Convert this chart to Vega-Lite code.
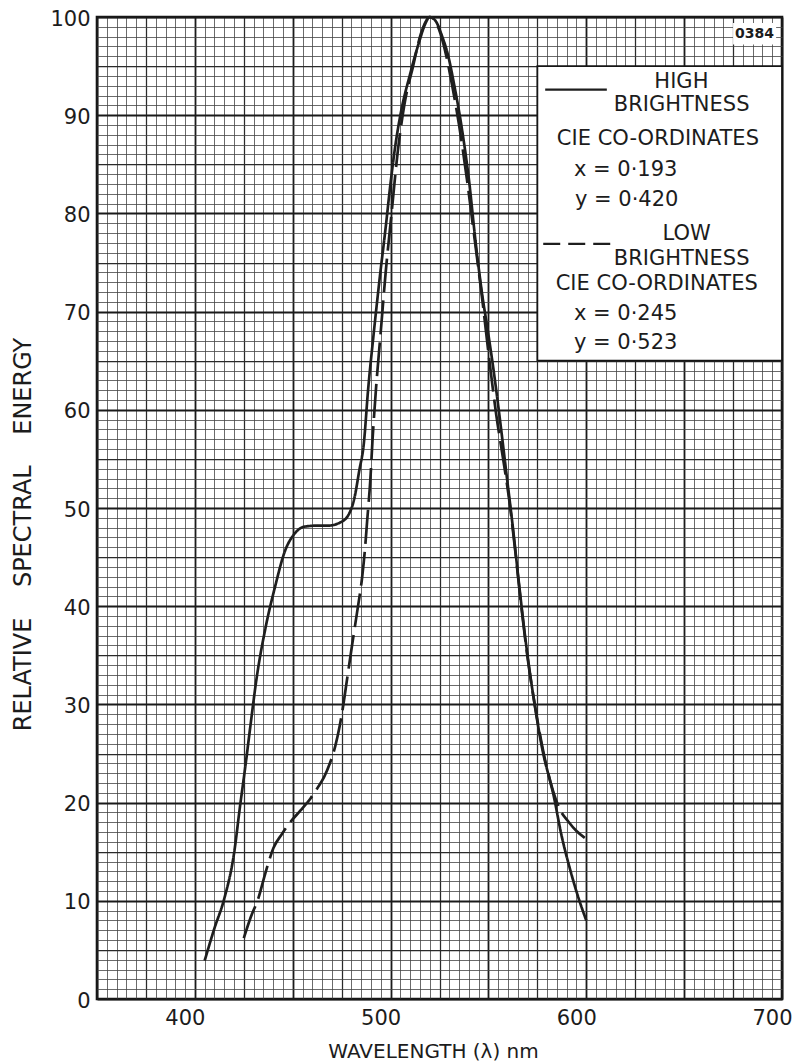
{
  "$schema": "https://vega.github.io/schema/vega-lite/v6.json",
  "width": 685,
  "height": 982,
  "autosize": {"type": "none"},
  "padding": {"left": 97, "top": 17, "right": 16, "bottom": 62},
  "background": "#ffffff",
  "config": {
    "view": {"stroke": "#151515", "strokeWidth": 2.6},
    "font": "DejaVu Sans",
    "text": {"font": "DejaVu Sans", "color": "#1c1c1c"}
  },
  "resolve": {"axis": {"x": "independent", "y": "independent"}},
  "datasets": {
    "spectrum": [
      {"wl": 405, "energy": 3.9, "series": "High brightness"},
      {"wl": 410, "energy": 7.2, "series": "High brightness"},
      {"wl": 415, "energy": 10.2, "series": "High brightness"},
      {"wl": 420, "energy": 14.8, "series": "High brightness"},
      {"wl": 423, "energy": 19.5, "series": "High brightness"},
      {"wl": 426, "energy": 24, "series": "High brightness"},
      {"wl": 428.5, "energy": 28, "series": "High brightness"},
      {"wl": 431.5, "energy": 32.6, "series": "High brightness"},
      {"wl": 436, "energy": 37.7, "series": "High brightness"},
      {"wl": 441, "energy": 42, "series": "High brightness"},
      {"wl": 446, "energy": 45.6, "series": "High brightness"},
      {"wl": 451, "energy": 47.4, "series": "High brightness"},
      {"wl": 456, "energy": 48.1, "series": "High brightness"},
      {"wl": 462, "energy": 48.2, "series": "High brightness"},
      {"wl": 468, "energy": 48.2, "series": "High brightness"},
      {"wl": 474, "energy": 48.5, "series": "High brightness"},
      {"wl": 478.5, "energy": 49.3, "series": "High brightness"},
      {"wl": 481.5, "energy": 51, "series": "High brightness"},
      {"wl": 484, "energy": 53.8, "series": "High brightness"},
      {"wl": 486.3, "energy": 56.5, "series": "High brightness"},
      {"wl": 488.5, "energy": 62, "series": "High brightness"},
      {"wl": 491.5, "energy": 68, "series": "High brightness"},
      {"wl": 494.5, "energy": 73.5, "series": "High brightness"},
      {"wl": 497.4, "energy": 78.4, "series": "High brightness"},
      {"wl": 500, "energy": 83.1, "series": "High brightness"},
      {"wl": 502.5, "energy": 87, "series": "High brightness"},
      {"wl": 505, "energy": 90, "series": "High brightness"},
      {"wl": 510, "energy": 94.2, "series": "High brightness"},
      {"wl": 514.5, "energy": 97.4, "series": "High brightness"},
      {"wl": 517.5, "energy": 99.2, "series": "High brightness"},
      {"wl": 520, "energy": 100, "series": "High brightness"},
      {"wl": 523, "energy": 99.6, "series": "High brightness"},
      {"wl": 526.4, "energy": 98, "series": "High brightness"},
      {"wl": 529.5, "energy": 96, "series": "High brightness"},
      {"wl": 532.3, "energy": 93.3, "series": "High brightness"},
      {"wl": 536.3, "energy": 88.8, "series": "High brightness"},
      {"wl": 540, "energy": 83.5, "series": "High brightness"},
      {"wl": 543.5, "energy": 77, "series": "High brightness"},
      {"wl": 546.9, "energy": 71.6, "series": "High brightness"},
      {"wl": 549.5, "energy": 68.3, "series": "High brightness"},
      {"wl": 553, "energy": 63.5, "series": "High brightness"},
      {"wl": 556.5, "energy": 58, "series": "High brightness"},
      {"wl": 559.5, "energy": 53, "series": "High brightness"},
      {"wl": 562.5, "energy": 48, "series": "High brightness"},
      {"wl": 565.5, "energy": 42.5, "series": "High brightness"},
      {"wl": 569, "energy": 36.5, "series": "High brightness"},
      {"wl": 574, "energy": 29.5, "series": "High brightness"},
      {"wl": 578, "energy": 25, "series": "High brightness"},
      {"wl": 581.5, "energy": 22.2, "series": "High brightness"},
      {"wl": 583, "energy": 21, "series": "High brightness"},
      {"wl": 587.3, "energy": 16.7, "series": "High brightness"},
      {"wl": 592, "energy": 13, "series": "High brightness"},
      {"wl": 596, "energy": 10.3, "series": "High brightness"},
      {"wl": 600, "energy": 8, "series": "High brightness"},

      {"wl": 425, "energy": 6.2, "series": "Low brightness"},
      {"wl": 428.5, "energy": 8.3, "series": "Low brightness"},
      {"wl": 432.5, "energy": 10.3, "series": "Low brightness"},
      {"wl": 436, "energy": 12.8, "series": "Low brightness"},
      {"wl": 440.2, "energy": 15.4, "series": "Low brightness"},
      {"wl": 444.5, "energy": 16.8, "series": "Low brightness"},
      {"wl": 448.7, "energy": 18, "series": "Low brightness"},
      {"wl": 454, "energy": 19.2, "series": "Low brightness"},
      {"wl": 459, "energy": 20.4, "series": "Low brightness"},
      {"wl": 463, "energy": 21.6, "series": "Low brightness"},
      {"wl": 466, "energy": 22.6, "series": "Low brightness"},
      {"wl": 469, "energy": 24, "series": "Low brightness"},
      {"wl": 471.8, "energy": 25.8, "series": "Low brightness"},
      {"wl": 474, "energy": 27.8, "series": "Low brightness"},
      {"wl": 475.5, "energy": 29.5, "series": "Low brightness"},
      {"wl": 477.8, "energy": 32.6, "series": "Low brightness"},
      {"wl": 480.3, "energy": 36, "series": "Low brightness"},
      {"wl": 482.9, "energy": 39.4, "series": "Low brightness"},
      {"wl": 485.5, "energy": 43, "series": "Low brightness"},
      {"wl": 487, "energy": 46, "series": "Low brightness"},
      {"wl": 488, "energy": 48.6, "series": "Low brightness"},
      {"wl": 489.7, "energy": 53, "series": "Low brightness"},
      {"wl": 490.8, "energy": 57, "series": "Low brightness"},
      {"wl": 492.5, "energy": 62, "series": "Low brightness"},
      {"wl": 495, "energy": 68, "series": "Low brightness"},
      {"wl": 497.5, "energy": 74, "series": "Low brightness"},
      {"wl": 500.5, "energy": 80, "series": "Low brightness"},
      {"wl": 503.5, "energy": 86, "series": "Low brightness"},
      {"wl": 507, "energy": 91, "series": "Low brightness"},
      {"wl": 511.5, "energy": 95, "series": "Low brightness"},
      {"wl": 515.5, "energy": 98.3, "series": "Low brightness"},
      {"wl": 520, "energy": 100, "series": "Low brightness"},
      {"wl": 522.5, "energy": 99.7, "series": "Low brightness"},
      {"wl": 525.5, "energy": 98.3, "series": "Low brightness"},
      {"wl": 528.5, "energy": 96, "series": "Low brightness"},
      {"wl": 531.5, "energy": 93, "series": "Low brightness"},
      {"wl": 535, "energy": 89, "series": "Low brightness"},
      {"wl": 539, "energy": 83.5, "series": "Low brightness"},
      {"wl": 543, "energy": 77.3, "series": "Low brightness"},
      {"wl": 547, "energy": 71, "series": "Low brightness"},
      {"wl": 550.5, "energy": 65, "series": "Low brightness"},
      {"wl": 554, "energy": 59.5, "series": "Low brightness"},
      {"wl": 557.5, "energy": 55, "series": "Low brightness"},
      {"wl": 560.5, "energy": 51, "series": "Low brightness"},
      {"wl": 563.5, "energy": 46, "series": "Low brightness"},
      {"wl": 566.5, "energy": 40.5, "series": "Low brightness"},
      {"wl": 569.5, "energy": 35.5, "series": "Low brightness"},
      {"wl": 574.5, "energy": 29, "series": "Low brightness"},
      {"wl": 579, "energy": 24.3, "series": "Low brightness"},
      {"wl": 583, "energy": 21.2, "series": "Low brightness"},
      {"wl": 586.5, "energy": 19.3, "series": "Low brightness"},
      {"wl": 590.7, "energy": 18.1, "series": "Low brightness"},
      {"wl": 595, "energy": 17.1, "series": "Low brightness"},
      {"wl": 600, "energy": 16.3, "series": "Low brightness"}
    ]
  },
  "layer": [
    {
      "data": {"name": "spectrum"},
      "mark": {"type": "line", "interpolate": "monotone", "color": "#1e1e1e", "strokeWidth": 2.7},
      "encoding": {
        "x": {
          "field": "wl",
          "type": "quantitative",
          "scale": {"domain": [350, 700], "nice": false, "zero": false},
          "axis": {
            "title": "WAVELENGTH (λ) nm",
            "titleFont": "DejaVu Sans",
            "titleFontSize": 20,
            "titleFontWeight": "normal",
            "titleColor": "#1c1c1c",
            "titleX": 336,
            "titleY": 52,
            "titleAlign": "center",
            "titleBaseline": "middle",
            "values": [350,355,360,365,370,375,380,385,390,395,400,405,410,415,420,425,430,435,440,445,450,455,460,465,470,475,480,485,490,495,500,505,510,515,520,525,530,535,540,545,550,555,560,565,570,575,580,585,590,595,600,605,610,615,620,625,630,635,640,645,650,655,660,665,670,675,680,685,690,695,700],
            "labelExpr": "datum.value % 100 === 0 && datum.value > 350 ? datum.label : ''",
            "labelFont": "DejaVu Sans",
            "labelFontSize": 21,
            "labelColor": "#1c1c1c",
            "labelPadding": 8,
            "labelOffset": -10,
            "labelOverlap": false,
            "labelFlush": false,
            "ticks": false,
            "domain": false,
            "grid": true,
            "gridColor": {"condition": [{"test": "datum.value % 50 === 0", "value": "#1a1a1a"}, {"test": "datum.value % 25 === 0", "value": "#2a2a2a"}], "value": "#454545"},
            "gridWidth": {"condition": [{"test": "datum.value % 50 === 0", "value": 1.8}, {"test": "datum.value % 25 === 0", "value": 1.25}], "value": 0.8},
            "gridOpacity": 1
          }
        },
        "y": {
          "field": "energy",
          "type": "quantitative",
          "scale": {"domain": [0, 100], "nice": false},
          "axis": {
            "title": "RELATIVE\u00a0\u00a0\u00a0\u00a0SPECTRAL\u00a0\u00a0\u00a0\u00a0ENERGY",
            "titleFont": "DejaVu Sans",
            "titleFontSize": 24,
            "titleFontWeight": "normal",
            "titleColor": "#1c1c1c",
            "titleX": -74,
            "titleY": 517,
            "titleAngle": 270,
            "titleAlign": "center",
            "titleBaseline": "middle",
            "values": [0,1,2,3,4,5,6,7,8,9,10,11,12,13,14,15,16,17,18,19,20,21,22,23,24,25,26,27,28,29,30,31,32,33,34,35,36,37,38,39,40,41,42,43,44,45,46,47,48,49,50,51,52,53,54,55,56,57,58,59,60,61,62,63,64,65,66,67,68,69,70,71,72,73,74,75,76,77,78,79,80,81,82,83,84,85,86,87,88,89,90,91,92,93,94,95,96,97,98,99,100],
            "labelExpr": "datum.value % 10 === 0 ? datum.label : ''",
            "labelFont": "DejaVu Sans",
            "labelFontSize": 21,
            "labelColor": "#1c1c1c",
            "labelPadding": 7,
            "labelOffset": 2,
            "labelOverlap": false,
            "labelFlush": false,
            "ticks": false,
            "domain": false,
            "grid": true,
            "gridColor": {"condition": [{"test": "datum.value % 10 === 0", "value": "#1a1a1a"}, {"test": "datum.value % 5 === 0", "value": "#2a2a2a"}], "value": "#454545"},
            "gridWidth": {"condition": [{"test": "datum.value % 10 === 0", "value": 1.8}, {"test": "datum.value % 5 === 0", "value": 1.25}], "value": 0.8},
            "gridOpacity": 1
          }
        },
        "strokeDash": {
          "field": "series",
          "type": "nominal",
          "scale": {"domain": ["High brightness", "Low brightness"], "range": [[1, 0], [34, 8]]},
          "legend": null
        }
      }
    },
    {
      "data": {"values": [{}]},
      "mark": {"type": "rect", "fill": "#ffffff", "stroke": "#151515", "strokeWidth": 1.8},
      "encoding": {
        "x": {"datum": 575, "type": "quantitative", "axis": null},
        "x2": {"datum": 700},
        "y": {"datum": 65, "type": "quantitative", "axis": null},
        "y2": {"datum": 95}
      }
    },
    {
      "data": {"values": [{}]},
      "mark": {"type": "rule", "color": "#1e1e1e", "strokeWidth": 2.4},
      "encoding": {
        "x": {"datum": 579, "type": "quantitative", "axis": null},
        "x2": {"datum": 610.5},
        "y": {"datum": 92.6, "type": "quantitative", "axis": null}
      }
    },
    {
      "data": {"values": [{}]},
      "mark": {"type": "rule", "color": "#1e1e1e", "strokeWidth": 2.4, "strokeDash": [17, 8]},
      "encoding": {
        "x": {"datum": 578, "type": "quantitative", "axis": null},
        "x2": {"datum": 613},
        "y": {"datum": 76.9, "type": "quantitative", "axis": null}
      }
    },
    {
      "data": {"values": [{}]},
      "mark": {"type": "text", "text": "HIGH", "fontSize": 21, "align": "center", "baseline": "middle"},
      "encoding": {"x": {"datum": 648.6, "type": "quantitative", "axis": null}, "y": {"datum": 93.4, "type": "quantitative", "axis": null}}
    },
    {
      "data": {"values": [{}]},
      "mark": {"type": "text", "text": "BRIGHTNESS", "fontSize": 21, "align": "center", "baseline": "middle"},
      "encoding": {"x": {"datum": 648.7, "type": "quantitative", "axis": null}, "y": {"datum": 91.05, "type": "quantitative", "axis": null}}
    },
    {
      "data": {"values": [{}]},
      "mark": {"type": "text", "text": "CIE CO-ORDINATES", "fontSize": 21, "align": "center", "baseline": "middle"},
      "encoding": {"x": {"datum": 636.6, "type": "quantitative", "axis": null}, "y": {"datum": 87.55, "type": "quantitative", "axis": null}}
    },
    {
      "data": {"values": [{}]},
      "mark": {"type": "text", "text": "x = 0·193", "fontSize": 21, "align": "left", "baseline": "middle"},
      "encoding": {"x": {"datum": 593.7, "type": "quantitative", "axis": null}, "y": {"datum": 84.45, "type": "quantitative", "axis": null}}
    },
    {
      "data": {"values": [{}]},
      "mark": {"type": "text", "text": "y = 0·420", "fontSize": 21, "align": "left", "baseline": "middle"},
      "encoding": {"x": {"datum": 594.2, "type": "quantitative", "axis": null}, "y": {"datum": 81.35, "type": "quantitative", "axis": null}}
    },
    {
      "data": {"values": [{}]},
      "mark": {"type": "text", "text": "LOW", "fontSize": 21, "align": "center", "baseline": "middle"},
      "encoding": {"x": {"datum": 651.3, "type": "quantitative", "axis": null}, "y": {"datum": 77.95, "type": "quantitative", "axis": null}}
    },
    {
      "data": {"values": [{}]},
      "mark": {"type": "text", "text": "BRIGHTNESS", "fontSize": 21, "align": "center", "baseline": "middle"},
      "encoding": {"x": {"datum": 648.7, "type": "quantitative", "axis": null}, "y": {"datum": 75.35, "type": "quantitative", "axis": null}}
    },
    {
      "data": {"values": [{}]},
      "mark": {"type": "text", "text": "CIE CO-ORDINATES", "fontSize": 21, "align": "center", "baseline": "middle"},
      "encoding": {"x": {"datum": 636.0, "type": "quantitative", "axis": null}, "y": {"datum": 72.8, "type": "quantitative", "axis": null}}
    },
    {
      "data": {"values": [{}]},
      "mark": {"type": "text", "text": "x = 0·245", "fontSize": 21, "align": "left", "baseline": "middle"},
      "encoding": {"x": {"datum": 593.7, "type": "quantitative", "axis": null}, "y": {"datum": 69.75, "type": "quantitative", "axis": null}}
    },
    {
      "data": {"values": [{}]},
      "mark": {"type": "text", "text": "y = 0·523", "fontSize": 21, "align": "left", "baseline": "middle"},
      "encoding": {"x": {"datum": 593.7, "type": "quantitative", "axis": null}, "y": {"datum": 66.8, "type": "quantitative", "axis": null}}
    },
    {
      "data": {"values": [{}]},
      "mark": {"type": "rect", "fill": "#ffffff"},
      "encoding": {
        "x": {"datum": 675, "type": "quantitative", "axis": null},
        "x2": {"datum": 697},
        "y": {"datum": 97.2, "type": "quantitative", "axis": null},
        "y2": {"datum": 99.4}
      }
    },
    {
      "data": {"values": [{}]},
      "mark": {"type": "text", "text": "0384", "fontSize": 14, "fontWeight": "bold", "align": "center", "baseline": "middle"},
      "encoding": {"x": {"datum": 686, "type": "quantitative", "axis": null}, "y": {"datum": 98.3, "type": "quantitative", "axis": null}}
    }
  ]
}
